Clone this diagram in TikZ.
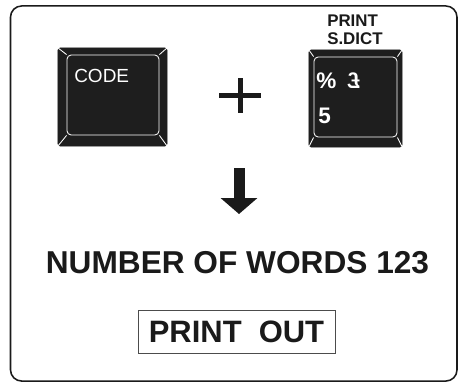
\documentclass[tikz,border=0pt]{standalone}
\usepackage{fontspec}
\setmainfont{Liberation Sans}
\usepackage{graphicx}
\usetikzlibrary{arrows.meta}
\definecolor{keyblack}{HTML}{1E1E1E}
\definecolor{inkblack}{HTML}{1A1A1A}

\begin{document}
\begin{tikzpicture}[
  x=0.025cm, y=-0.025cm,
  outer/.style={draw=inkblack, line width=1.1pt, rounded corners=0.28cm, minimum width=11.16cm, minimum height=9.375cm},
  keycap/.style={draw=keyblack, fill=keyblack, rounded corners=1.5pt, inner sep=0pt},
  keyface/.style={draw=white, line width=0.6pt, rounded corners=3pt, inner sep=0pt},
  bevel/.style={draw=white, line width=0.6pt},
  keytext/.style={text=white, inner sep=0pt, anchor=base west},
  keylabel/.style={text=inkblack, inner sep=0pt, anchor=north west, align=left, font=\fontsize{12}{12.8}\selectfont\bfseries},
  plusbar/.style={draw=inkblack, line width=0.125cm},
  bigarrow/.style={-{Triangle[width=0.9cm,length=0.4cm]}, draw=inkblack, line width=0.275cm},
  result/.style={text=inkblack, inner sep=0pt, anchor=base, font=\fontsize{22.5}{26}\selectfont\bfseries},
  printbox/.style={draw=black!70, line width=0.6pt, text=inkblack, minimum width=4.925cm, minimum height=1.075cm, inner sep=0pt, font=\fontsize{22}{26}\selectfont\bfseries}
]
\useasboundingbox (0,0) rectangle (458,383);
\fill[white] (0,0) rectangle (458,383);
\node[outer] (frame) at (233.75,193.5) {};

\node[keycap, minimum width=2.725cm, minimum height=2.45cm] (codekey) at (112.5,97) {};
\node[keyface, minimum width=2.3cm, minimum height=2.0cm] (codeface) at (113,95) {};
\draw[bevel] (codeface.north west) -- (codekey.north west);
\draw[bevel] (codeface.north east) -- (codekey.north east);
\draw[bevel] (codeface.south west) -- (codekey.south west);
\draw[bevel] (codeface.south east) -- (codekey.south east);
\node[keytext, font=\fontsize{13.5}{15}\selectfont] (codetext) at (74,82) {CODE};

\draw[plusbar] (219,95.5) -- (261,95.5);
\draw[plusbar] (240,78) -- (240,113);

\node[keylabel] (dictlabel) at (327,15) {PRINT\\S.DICT};
\node[keycap, minimum width=2.325cm, minimum height=2.425cm] (dictkey) at (355.5,98.5) {};
\node[keyface, minimum width=2.075cm, minimum height=2.0cm] (dictface) at (355.5,97) {};
\draw[bevel] (dictface.north west) -- (dictkey.north west);
\draw[bevel] (dictface.north east) -- (dictkey.north east);
\draw[bevel] (dictface.south west) -- (dictkey.south west);
\draw[bevel] (dictface.south east) -- (dictkey.south east);
\node[keytext, font=\fontsize{16}{18}\selectfont\bfseries] (percent) at (316,88) {\%};
\node[keytext, font=\fontsize{16}{18}\selectfont\bfseries] (pound) at (347,88) {\reflectbox{£}};
\node[keytext, font=\fontsize{16}{18}\selectfont\bfseries] (five) at (318,123) {5};

\coordinate (arrowtop) at (239,168);
\coordinate (arrowtip) at (239,214);
\draw[bigarrow] (arrowtop) -- (arrowtip);

\node[result] (words) at (237.5,273) {NUMBER OF WORDS 123};
\node[printbox] (printout) at (236.5,331.5) {PRINT~~OUT};
\end{tikzpicture}
\end{document}
